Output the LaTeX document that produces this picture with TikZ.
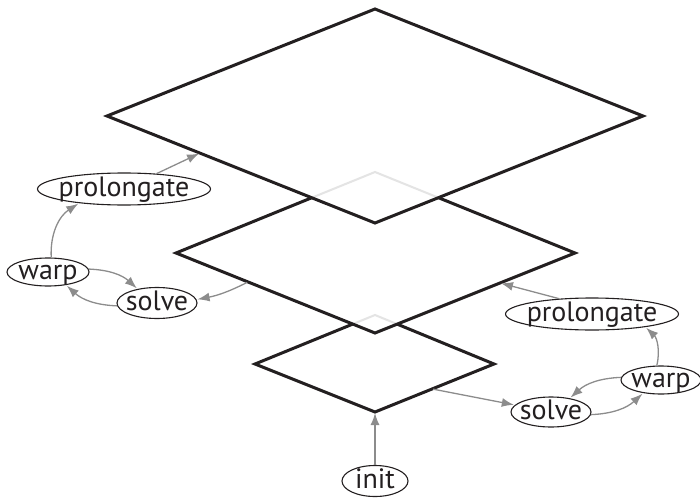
\documentclass[tikz,border=0pt]{standalone}
\usepackage{fontspec}
\setmainfont{PT Sans}
\usetikzlibrary{shapes.geometric,arrows.meta,calc}
\newcommand\elltxt[1]{\makebox[0pt]{\smash{\raisebox{-0.27em}{#1}}}}
\definecolor{arrgray}{HTML}{8C8C8C}
\definecolor{hidgray}{HTML}{E4E4E4}
\definecolor{ink}{HTML}{231F20}
\begin{document}
\begin{tikzpicture}[x=1pt,y=-1pt,
  lbl/.style={ellipse, draw=ink, line width=1.1pt, inner sep=0pt, text=ink, fill=white,
    font=\fontsize{28}{28}\selectfont},
  plate/.style={draw=ink, line width=3pt, line join=miter},
  platefill/.style={fill=white},
  hidden/.style={draw=hidgray, line width=2pt},
  arr/.style={draw=arrgray, line width=1.3pt, -{Latex[length=12pt,width=9pt]}, shorten >=1pt}]
\useasboundingbox (0,0) rectangle (700,497);
% diamond vertices
\coordinate (tT) at (375,9);  \coordinate (tR) at (643,116);
\coordinate (tB) at (375,223); \coordinate (tL) at (107,116);
\coordinate (mT) at (375,172); \coordinate (mR) at (575,253);
\coordinate (mB) at (375,333); \coordinate (mL) at (176,253);
\coordinate (bT) at (375,315); \coordinate (bR) at (494,364);
\coordinate (bB) at (375,412); \coordinate (bL) at (255,364);
% bottom plate
\fill[platefill] (bT) -- (bR) -- (bB) -- (bL) -- cycle;
\draw[plate] (bT) -- (bR) -- (bB) -- (bL) -- cycle;
% middle plate
\fill[platefill] (mT) -- (mR) -- (mB) -- (mL) -- cycle;
\begin{scope}
  \clip (mT) -- (mR) -- (mB) -- (mL) -- cycle;
  \draw[hidden] (bT) -- (bR) -- (bB) -- (bL) -- cycle;
\end{scope}
\draw[plate] (mT) -- (mR) -- (mB) -- (mL) -- cycle;
% top plate
\fill[platefill] (tT) -- (tR) -- (tB) -- (tL) -- cycle;
\begin{scope}
  \clip (tT) -- (tR) -- (tB) -- (tL) -- cycle;
  \draw[hidden] (mT) -- (mR) -- (mB) -- (mL) -- cycle;
\end{scope}
\draw[plate] (tT) -- (tR) -- (tB) -- (tL) -- cycle;
% points on plate edges
\coordinate (c1) at ($(tL)!0.347!(tB)$);
\coordinate (c2) at ($(mL)!0.362!(mB)$);
\coordinate (c3) at ($(mR)!0.375!(mB)$);
\coordinate (c4) at ($(bR)!0.52!(bB)$);
% nodes
\node[lbl, minimum width=173pt, minimum height=32pt] (pL) at (124,189) {\elltxt{prolongate}};
\node[lbl, minimum width=82pt, minimum height=28pt] (wL) at (48,272) {\elltxt{warp}};
\node[lbl, minimum width=80pt, minimum height=31pt] (sL) at (157,303) {\elltxt{solve}};
\node[lbl, minimum width=173pt, minimum height=32pt] (pR) at (592,314) {\elltxt{prolongate}};
\node[lbl, minimum width=80pt, minimum height=28pt] (wR) at (661,380) {\elltxt{warp}};
\node[lbl, minimum width=80pt, minimum height=30pt] (sR) at (551,412) {\elltxt{solve}};
\node[lbl, minimum width=66pt, minimum height=31pt] (init) at (375,481) {\elltxt{init}};
% left connectors
\draw[arr] (pL) -- (c1);
\draw[arr] (wL) to[bend left=30] (pL);
\draw[arr] (wL) to[bend left=20] (sL);
\draw[arr] (sL) to[bend left=20] (wL);
\draw[arr, shorten <=1pt] (c2) to[bend left=8] (sL);
% right connectors
\draw[arr, shorten <=1pt] (c4) -- (sR);
\draw[arr] (sR) to[bend right=20] (wR);
\draw[arr] (wR) to[bend right=20] (sR);
\draw[arr] (wR) to[bend right=30] (pR);
\draw[arr] (pR.155) -- (c3);
% init
\draw[arr] (init) -- (bB);
\end{tikzpicture}
\end{document}
